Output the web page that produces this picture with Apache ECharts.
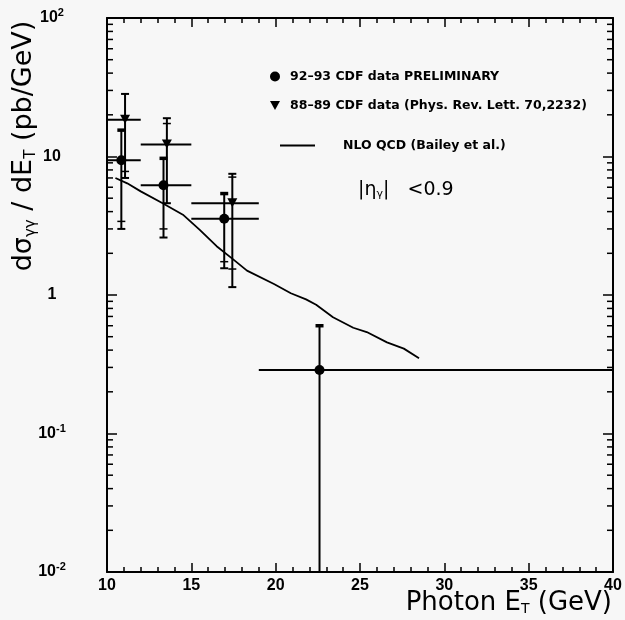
<!DOCTYPE html>
<html>
<head>
<meta charset="utf-8">
<script src="https://cdn.jsdelivr.net/npm/echarts@6/dist/echarts.min.js"></script>
<style>
  html, body { margin: 0; padding: 0; background: #f7f7f7; }
  #chart { width: 625px; height: 620px; }
</style>
</head>
<body>
<div id="chart"></div>
<script>
// 92-93 CDF data (preliminary): centre, bin edges, total and stat error ends
const newName = '92\u201393 CDF data PRELIMINARY';
const newX = [10.85, 13.35, 16.95, 22.6];
const newY = [9.4, 6.2, 3.55, 0.287];
const newXLo = [10, 12, 15, 19];
const newXHi = [12, 15, 19, 40];
const newYLo = [3.0, 2.6, 1.56, 0.01];
const newYHi = [15.5, 9.7, 5.4, 0.6];
const newStatLo = [3.4, 3.0, 1.74, null];

// 88-89 CDF data (PRL 70, 2232)
const oldName = '88\u201389 CDF data (Phys. Rev. Lett. 70,2232)';
const oldX = [11.07, 13.55, 17.43];
const oldY = [18.4, 12.2, 4.6];
const oldXLo = [10, 12, 15];
const oldXHi = [12, 15, 19];
const oldYLo = [7.0, 4.6, 1.14];
const oldYHi = [28.3, 18.9, 7.5];
const oldStatLo = [7.8, null, 1.54];
const oldStatHi = [null, 17.3, 7.1];

// NLO QCD curve
const nloName = 'NLO QCD (Bailey et al.)';
const nloX = [10.5, 11.2, 12.0, 13.3, 14.5, 15.5, 16.5, 17.5, 18.3, 19.9, 20.9, 21.8, 22.4, 23.4, 24.6, 25.4, 26.6, 27.6, 28.5];
const nloY = [7.0, 6.4, 5.6, 4.6, 3.8, 2.95, 2.25, 1.8, 1.5, 1.2, 1.03, 0.93, 0.85, 0.69, 0.58, 0.54, 0.455, 0.41, 0.35];

// log axis minor tick values (2..9 per decade)
const yDecades = [0.01, 0.1, 1, 10];
const yMinorTicks = [];
yDecades.forEach(d => { for (let k = 2; k <= 9; k++) yMinorTicks.push(k * d); });

const labelFont = 'Liberation Sans';
const titleFont = 'DejaVu Sans';
const legendFont = 'DejaVu Sans';

const chart = echarts.init(document.getElementById('chart'));

const nn = v => (v == null ? NaN : v);

function errorBarRenderer(marker) {
    return function (params, api) {
        const x = api.value(0), y = api.value(1);
        const c = api.coord([x, y]);
        const xl = api.coord([api.value(2), y])[0];
        const xh = api.coord([api.value(3), y])[0];
        const yl = api.coord([x, api.value(4)])[1];
        const yh = api.coord([x, api.value(5)])[1];
        const stroke = { stroke: '#000', lineWidth: 2 };
        const children = [
            { type: 'line', shape: { x1: xl, y1: c[1], x2: xh, y2: c[1] }, style: stroke },
            { type: 'line', shape: { x1: c[0], y1: yl, x2: c[0], y2: yh }, style: stroke },
            { type: 'line', shape: { x1: c[0] - 4, y1: yh, x2: c[0] + 4, y2: yh }, style: { stroke: '#000', lineWidth: marker === 'circle' ? 3.5 : 2 } }
        ];
        if (api.value(4) > 0.011) {
            children.push({ type: 'line', shape: { x1: c[0] - 4, y1: yl, x2: c[0] + 4, y2: yl }, style: stroke });
        }
        [6, 7].forEach(i => {
            const v = api.value(i);
            if (isFinite(v) && v > 0) {
                const py = api.coord([x, v])[1];
                children.push({ type: 'line', shape: { x1: c[0] - 4, y1: py, x2: c[0] + 4, y2: py }, style: { stroke: '#000', lineWidth: 1.5 } });
            }
        });
        if (marker === 'circle') {
            children.push({ type: 'circle', shape: { cx: c[0], cy: c[1], r: 5 }, style: { fill: '#000' } });
        } else {
            children.push({ type: 'polygon', shape: { points: [[c[0] - 5, c[1] - 5], [c[0] + 5, c[1] - 5], [c[0], c[1] + 4]] }, style: { fill: '#000' } });
        }
        return { type: 'group', children };
    };
}

function minorTickRenderer(params, api) {
    const cs = params.coordSys;
    const py = api.coord([10, api.value(1)])[1];
    const st = { stroke: '#000', lineWidth: 1.5 };
    return {
        type: 'group',
        children: [
            { type: 'line', shape: { x1: cs.x, y1: py, x2: cs.x + 6, y2: py }, style: st },
            { type: 'line', shape: { x1: cs.x + cs.width, y1: py, x2: cs.x + cs.width - 6, y2: py }, style: st }
        ]
    };
}

const yLabelText = {
    '2': '10{sup|2}', '1': '10', '0': '1', '-1': '10{sup|-1}', '-2': '10{sup|-2}'
};

const xAxisBase = {
    type: 'value', min: 10, max: 40, interval: 5,
    axisLine: { onZero: false, lineStyle: { color: '#000', width: 2 } },
    axisTick: { inside: true, length: 9, lineStyle: { color: '#000', width: 1.5 } },
    minorTick: { show: true, splitNumber: 5, length: 5, lineStyle: { color: '#000', width: 1.5 } },
    splitLine: { show: false }
};

const yAxisBase = {
    type: 'log', logBase: 10, min: 0.01, max: 100,
    axisLine: { onZero: false, lineStyle: { color: '#000', width: 2 } },
    axisTick: { inside: true, length: 10, lineStyle: { color: '#000', width: 1.5 } },
    splitLine: { show: false },
    minorTick: { show: false }
};

const legendText = { fontFamily: legendFont, fontSize: 12.5, fontWeight: 'bold', color: '#000' };

const option = {
    backgroundColor: '#f7f7f7',
    animation: false,
    grid: { left: 107, right: 12, top: 18, bottom: 48 },
    xAxis: [
        Object.assign({}, xAxisBase, {
            position: 'bottom',
            axisLabel: { margin: 6, color: '#000', fontFamily: labelFont, fontWeight: 'bold', fontSize: 16 }
        }),
        Object.assign({}, xAxisBase, { position: 'top', axisLabel: { show: false } })
    ],
    yAxis: [
        Object.assign({}, yAxisBase, {
            position: 'left',
            axisLabel: {
                margin: 55, align: 'center', color: '#000',
                fontFamily: labelFont, fontWeight: 'bold', fontSize: 16,
                formatter: v => yLabelText[String(Math.round(Math.log10(v)))] || '',
                rich: { sup: { fontFamily: labelFont, fontWeight: 'bold', fontSize: 11, padding: [0, 0, 10, 0] } }
            }
        }),
        Object.assign({}, yAxisBase, { position: 'right', axisLabel: { show: false } })
    ],
    legend: [
        {
            data: [{ name: newName, icon: 'circle' }],
            left: 265, top: 65, itemWidth: 20, itemHeight: 10, selectedMode: false,
            textStyle: legendText
        },
        {
            data: [{ name: oldName, icon: 'path://M0,0L10,0L5,9Z' }],
            left: 265, top: 94, itemWidth: 20, itemHeight: 9, selectedMode: false,
            textStyle: legendText
        },
        {
            data: [{ name: nloName, icon: 'rect' }],
            left: 275, top: 134, itemWidth: 35, itemHeight: 2, selectedMode: false,
            textStyle: Object.assign({}, legendText, { padding: [0, 0, 0, 23] })
        }
    ],
    graphic: [
        {
            type: 'text', x: 24, y: 146, rotation: Math.PI / 2,
            style: {
                text: 'd\u03c3{sub|\u03b3\u03b3} / dE{sub|T} (pb/GeV)',
                fontFamily: titleFont, fontSize: 27, fill: '#000',
                align: 'center', verticalAlign: 'middle',
                rich: { sub: { fontFamily: titleFont, fontSize: 15, padding: [14, 0, 0, 0] } }
            }
        },
        {
            type: 'text', x: 612, y: 603,
            style: {
                text: 'Photon E{sub|T} (GeV)',
                fontFamily: titleFont, fontSize: 26, fill: '#000',
                align: 'right', verticalAlign: 'middle',
                rich: { sub: { fontFamily: titleFont, fontSize: 14, padding: [13, 0, 0, 0] } }
            }
        },
        {
            type: 'text', x: 358, y: 190,
            style: {
                text: '|\u03b7{sub|\u03b3}|   <0.9',
                fontFamily: titleFont, fontSize: 19, fill: '#000',
                align: 'left', verticalAlign: 'middle',
                rich: { sub: { fontFamily: titleFont, fontSize: 11, padding: [9, 0, 0, 0] } }
            }
        }
    ],
    series: [
        {
            name: nloName, type: 'line', showSymbol: false, symbol: 'none',
            data: nloX.map((x, i) => [x, nloY[i]]),
            lineStyle: { color: '#000', width: 1.8 },
            itemStyle: { color: '#000' }
        },
        {
            name: oldName, type: 'custom',
            renderItem: errorBarRenderer('triangle'),
            encode: { x: 0, y: 1 },
            itemStyle: { color: '#000' },
            data: oldX.map((x, i) => [x, oldY[i], oldXLo[i], oldXHi[i], oldYLo[i], oldYHi[i], nn(oldStatLo[i]), nn(oldStatHi[i])])
        },
        {
            name: newName, type: 'custom',
            renderItem: errorBarRenderer('circle'),
            encode: { x: 0, y: 1 },
            itemStyle: { color: '#000' },
            data: newX.map((x, i) => [x, newY[i], newXLo[i], newXHi[i], newYLo[i], newYHi[i], nn(newStatLo[i]), NaN])
        },
        {
            name: 'minor', type: 'custom', silent: true,
            renderItem: minorTickRenderer,
            encode: { x: 0, y: 1 },
            data: yMinorTicks.map(v => [10, v])
        }
    ]
};

chart.setOption(option);
</script>
</body>
</html>
